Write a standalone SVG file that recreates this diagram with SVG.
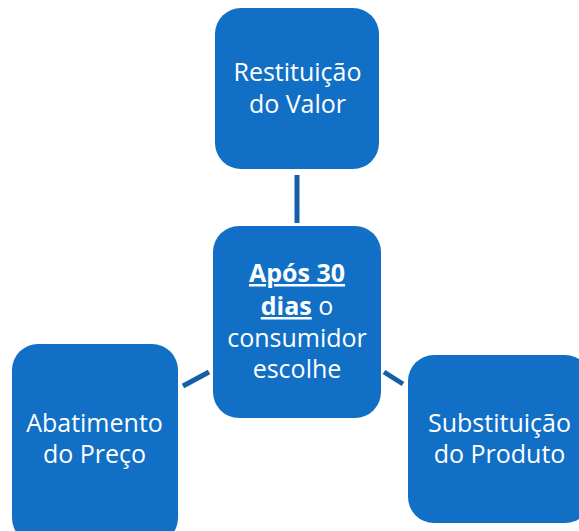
<svg xmlns="http://www.w3.org/2000/svg" width="579" height="531" viewBox="0 0 579 531">
<style>
.box{fill:#1170C6;}
.lbl{font-family:"Open Sans","Noto Sans",sans-serif;font-size:25px;fill:#ffffff;text-anchor:middle;}
.b{font-weight:bold;text-decoration:underline;}
.conn{stroke:#155FA6;stroke-width:5;fill:none;}
</style>
<rect width="579" height="531" fill="#ffffff"/>
<g id="connectors">
<line class="conn" x1="297" y1="175" x2="297" y2="223"/>
<line class="conn" x1="183" y1="386" x2="209" y2="372"/>
<line class="conn" x1="384" y1="372" x2="403" y2="384"/>
</g>
<g id="node-top">
<rect class="box" x="215" y="8" width="164" height="161" rx="26"/>
<text class="lbl" x="297.5" y="81">Restituição</text>
<text class="lbl" x="297.5" y="113">do Valor</text>
</g>
<g id="node-center">
<rect class="box" x="213" y="226" width="168" height="192" rx="26"/>
<text class="lbl" x="297" y="282"><tspan class="b">Após 30</tspan></text>
<text class="lbl" x="297" y="315"><tspan class="b">dias</tspan> o</text>
<text class="lbl" x="297" y="347">consumidor</text>
<text class="lbl" x="297" y="378">escolhe</text>
</g>
<g id="node-left">
<rect class="box" x="12" y="344" width="166" height="200" rx="26"/>
<text class="lbl" x="94.5" y="432">Abatimento</text>
<text class="lbl" x="94.5" y="463">do Preço</text>
</g>
<g id="node-right">
<rect class="box" x="408" y="355" width="183" height="168" rx="26"/>
<text class="lbl" x="499.5" y="432">Substituição</text>
<text class="lbl" x="499.5" y="463">do Produto</text>
</g>
</svg>
